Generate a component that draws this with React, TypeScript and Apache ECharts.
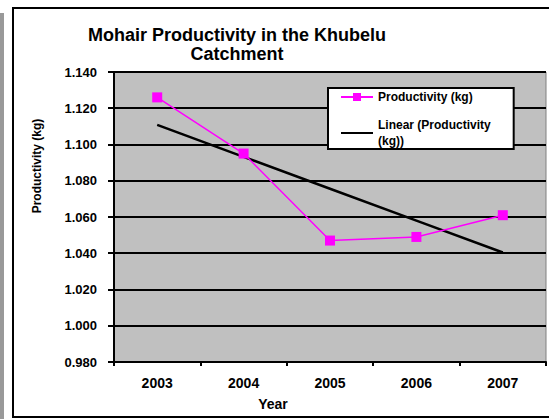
import React, { useEffect, useRef } from "react";
import * as echarts from "echarts";

const years = ["2003", "2004", "2005", "2006", "2007"];
const productivity = [1.126, 1.095, 1.047, 1.049, 1.061];
const yTicks = { min: 0.98, max: 1.14, interval: 0.02 };
const seriesName = "Productivity (kg)";
const trendName = "Linear (Productivity (kg))";

function linearFit(vals: number[]): number[] {
  const n = vals.length;
  const xs = vals.map((_, i) => i + 1);
  const mx = xs.reduce((a, b) => a + b, 0) / n;
  const my = vals.reduce((a, b) => a + b, 0) / n;
  let num = 0;
  let den = 0;
  for (let i = 0; i < n; i++) {
    num += (xs[i] - mx) * (vals[i] - my);
    den += (xs[i] - mx) * (xs[i] - mx);
  }
  const slope = num / den;
  return xs.map((x) => +(my + slope * (x - mx)).toFixed(4));
}

const FONT = 'Arial, "Liberation Sans", sans-serif';

export default function App() {
  const ref = useRef<HTMLDivElement>(null);
  useEffect(() => {
    if (!ref.current) return;
    const chart = echarts.init(ref.current, undefined, { renderer: "svg" });
    const trend = linearFit(productivity);
    const frame = { stroke: "#000", lineWidth: 2 };
    chart.setOption({
      animation: false,
      backgroundColor: "#ffffff",
      title: {
        text: "Mohair Productivity in the Khubelu\nCatchment",
        left: 237,
        top: 25,
        textAlign: "center",
        padding: 0,
        textStyle: {
          fontFamily: FONT,
          fontWeight: "bold",
          fontSize: 18,
          lineHeight: 19,
          color: "#000",
        },
      },
      grid: {
        left: 114,
        top: 72,
        width: 432,
        height: 290,
        show: true,
        backgroundColor: "#c0c0c0",
        borderColor: "#808080",
        borderWidth: 1,
      },
      legend: {
        orient: "vertical",
        left: 328,
        top: 88,
        padding: [1, 23, 0, 12],
        itemGap: 12,
        itemWidth: 32,
        itemHeight: 10,
        backgroundColor: "#ffffff",
        borderColor: "#000000",
        borderWidth: 2,
        data: [
          { name: seriesName },
          { name: trendName, itemStyle: { opacity: 0 } },
        ],
        formatter: (name: string) =>
          name === trendName ? "Linear (Productivity\n(kg))" : name,
        textStyle: {
          fontFamily: FONT,
          fontWeight: "bold",
          fontSize: 12,
          lineHeight: 16,
          color: "#000",
        },
      },
      xAxis: {
        type: "category",
        data: years,
        boundaryGap: true,
        axisLine: { lineStyle: { color: "#000", width: 2 } },
        axisTick: { show: true, length: 4, lineStyle: { color: "#000", width: 2 } },
        axisLabel: {
          margin: 14,
          fontFamily: FONT,
          fontWeight: "bold",
          fontSize: 14,
          color: "#000",
        },
        splitLine: { show: false },
      },
      yAxis: {
        type: "value",
        min: yTicks.min,
        max: yTicks.max,
        interval: yTicks.interval,
        axisLine: { show: true, lineStyle: { color: "#000", width: 2 } },
        axisTick: { show: true, length: 6, lineStyle: { color: "#000", width: 2 } },
        axisLabel: {
          margin: 17,
          fontFamily: FONT,
          fontWeight: "bold",
          fontSize: 13,
          color: "#000",
          formatter: (v: number) => v.toFixed(3),
        },
        splitLine: { show: true, lineStyle: { color: "#000", width: 2 } },
      },
      series: [
        {
          name: seriesName,
          type: "line",
          data: productivity,
          symbol: "rect",
          symbolSize: 10,
          itemStyle: { color: "#ff00ff" },
          lineStyle: { color: "#ff00ff", width: 1.5 },
          z: 3,
        },
        {
          name: trendName,
          type: "line",
          data: trend,
          symbol: "none",
          showSymbol: false,
          itemStyle: { color: "#000" },
          lineStyle: { color: "#000", width: 2.5 },
          z: 2,
        },
      ],
      graphic: [
        {
          type: "rect",
          shape: { x: 0, y: 13, width: 4, height: 406 },
          style: { fill: "#999999" },
          silent: true,
        },
        {
          type: "line",
          shape: { x1: 13, y1: 8, x2: 549, y2: 8 },
          style: frame,
          silent: true,
        },
        {
          type: "line",
          shape: { x1: 13, y1: 7, x2: 13, y2: 418 },
          style: frame,
          silent: true,
        },
        {
          type: "line",
          shape: { x1: 13, y1: 417, x2: 549, y2: 417 },
          style: frame,
          silent: true,
        },
        {
          type: "text",
          x: 37,
          y: 166,
          rotation: Math.PI / 2,
          style: {
            text: "Productivity (kg)",
            fontFamily: FONT,
            fontWeight: "bold",
            fontSize: 12,
            fill: "#000",
            textAlign: "center",
            textVerticalAlign: "middle",
          },
          silent: true,
        },
        {
          type: "text",
          x: 273,
          y: 404,
          style: {
            text: "Year",
            fontFamily: FONT,
            fontWeight: "bold",
            fontSize: 14,
            fill: "#000",
            textAlign: "center",
            textVerticalAlign: "middle",
          },
          silent: true,
        },
      ],
    });
    return () => chart.dispose();
  }, []);
  return (
    <div
      ref={ref}
      style={{ position: "fixed", left: 0, top: 0, width: 549, height: 419 }}
    />
  );
}
